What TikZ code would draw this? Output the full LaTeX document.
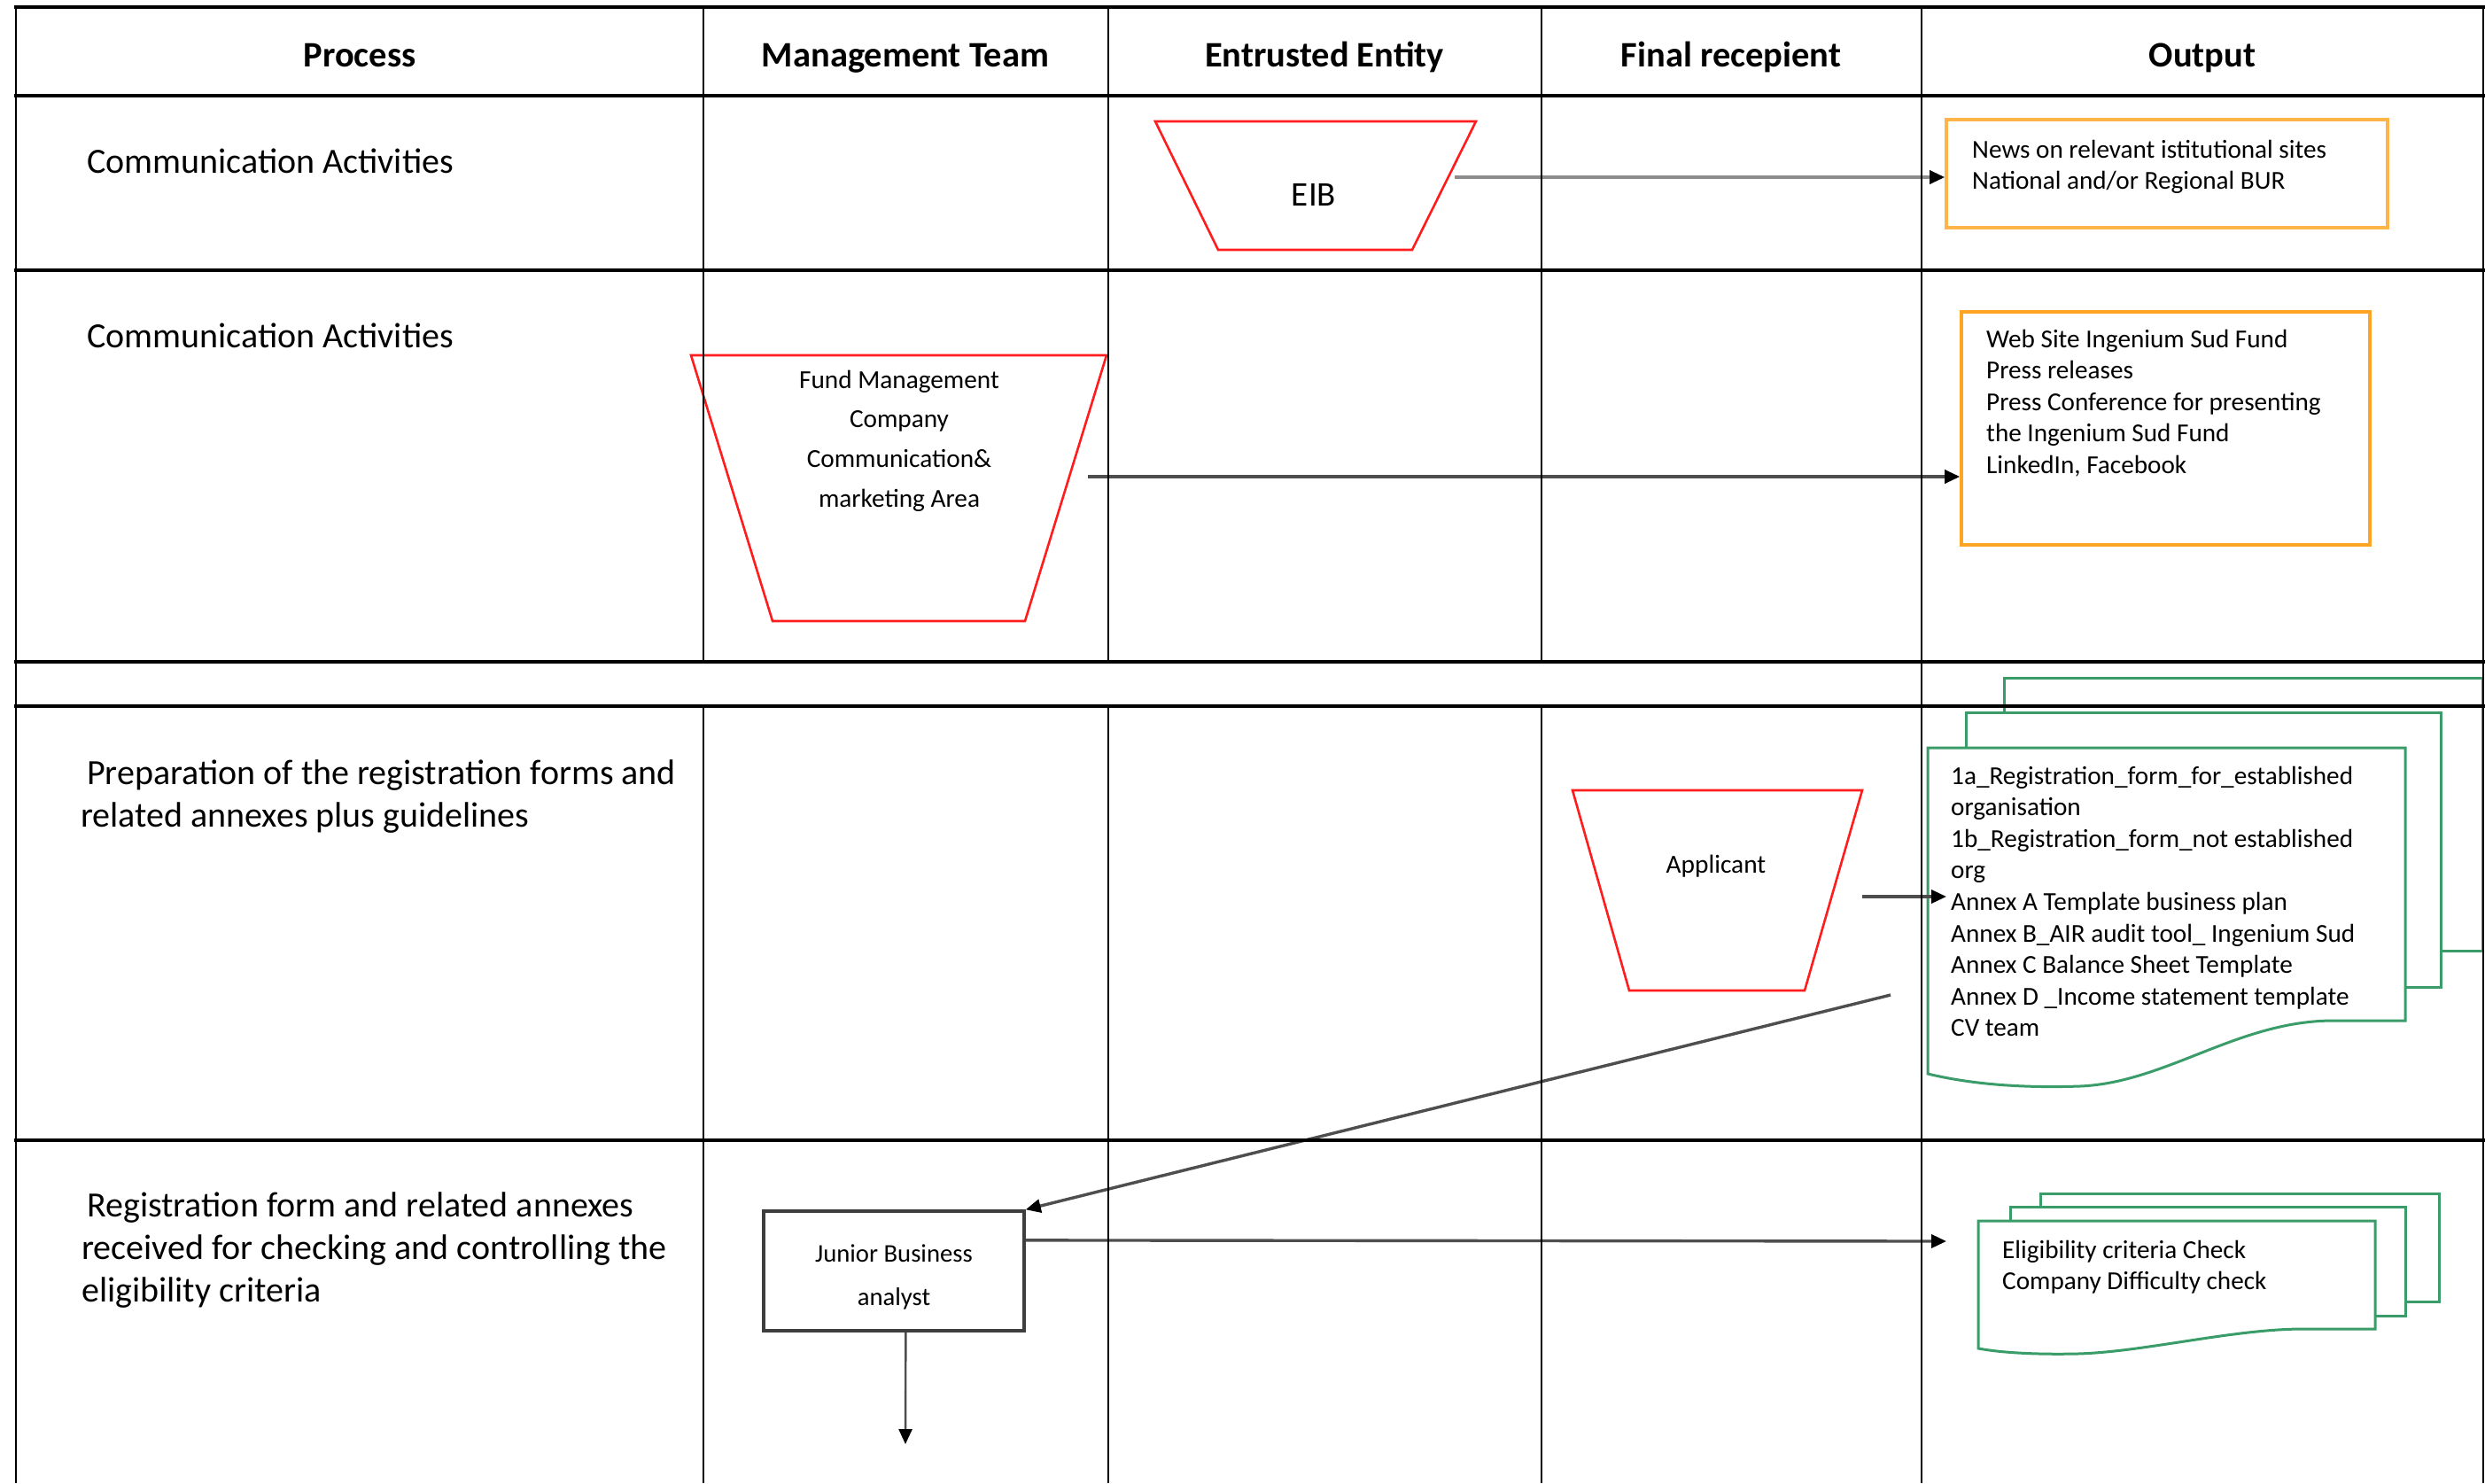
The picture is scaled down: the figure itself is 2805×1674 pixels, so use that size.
\documentclass[tikz,border=0pt]{standalone}
\usepackage{fontspec}
\setmainfont{Carlito}
\usetikzlibrary{arrows.meta,calc}

\definecolor{trapred}{RGB}{255,28,28}
\definecolor{docgreen}{RGB}{58,156,104}
\definecolor{boxorange}{RGB}{255,180,74}
\definecolor{boxorangeB}{RGB}{255,164,36}
\definecolor{flowgray}{RGB}{78,78,78}
\definecolor{flowlight}{RGB}{140,140,140}
\definecolor{framegray}{RGB}{62,62,62}

% multi-line text blocks whose reference point is the first baseline
\newcommand{\leftcol}[1]{\begin{tabular}[t]{@{}l@{}}#1\end{tabular}}
\newcommand{\midcol}[1]{\begin{tabular}[t]{@{}c@{}}#1\end{tabular}}

\begin{document}
\begin{tikzpicture}[x=1pt,y=-1pt,
  hrule/.style={line width=3.4pt,line cap=rect},
  vrule/.style={line width=2.8pt},
  headtext/.style={font=\bfseries\fontsize{40.5}{47}\selectfont,anchor=base,inner sep=0pt},
  proctext/.style={font=\fontsize{40}{48}\selectfont,anchor=base west,inner sep=0pt},
  smalltext/.style={font=\fontsize{29.2}{35.6}\selectfont,anchor=base west,inner sep=0pt},
  shapetext/.style={inner sep=0pt,anchor=base},
  trap/.style={draw=trapred,line width=2.6pt,fill=white},
  outbox/.style={draw=boxorange,line width=3.6pt,fill=white,inner sep=0pt},
  doc/.style={draw=docgreen,line width=3pt,fill=white},
  flow/.style={draw=flowgray,line width=3.4pt,-{Triangle[length=17pt,width=15pt,color=black]}},
]
\useasboundingbox (0,0) rectangle (2805,1674);

% ---------- Entrusted entity: EIB ----------
\draw[trap] (1304,137) -- (1666,137) -- (1594,282) -- (1375,282) -- cycle;
\node[shapetext,font=\fontsize{39}{44}\selectfont] (eib) at (1483,232) {EIB};

% ---------- Management team: fund management company ----------
\draw[trap] (780,401) -- (1249,401) -- (1157,701) -- (872,701) -- cycle;
\node[shapetext,font=\fontsize{29.3}{44.7}\selectfont] (fund) at (1015,438)
  {\midcol{Fund Management\\Company\\Communication\&\\marketing Area}};

% ---------- Final recipient: applicant ----------
\draw[trap] (1775,892) -- (2102,892) -- (2037,1118) -- (1839,1118) -- cycle;
\node[shapetext,font=\fontsize{29.4}{34}\selectfont] (applicant) at (1937,985) {Applicant};

% ---------- Output boxes ----------
\node[outbox,minimum width=498pt,minimum height=122pt] (news) at (2446,196) {};
\node[smalltext] (newsT) at (2226,178)
  {\leftcol{News on relevant istitutional sites\\National and/or Regional BUR}};

\node[outbox,draw=boxorangeB,minimum width=461pt,minimum height=263pt] (web) at (2444.5,483.5) {};
\node[smalltext] (webT) at (2242,392)
  {\leftcol{Web Site Ingenium Sud Fund\\Press releases\\Press Conference for presenting\\the Ingenium Sud Fund\\LinkedIn, Facebook}};

% ---------- Registration documents (stack) ----------
\draw[doc] (2262,765) rectangle (2802,1073);
\draw[doc] (2219,804) rectangle (2755,1114);
\draw[doc] (2176,844) -- (2715,844) -- (2715,1152) -- (2634,1152)
  .. controls (2526,1152) and (2445,1222) .. (2348,1226)
  .. controls (2290,1228) and (2230,1225) .. (2176,1212) -- cycle;
\node[smalltext] (docsT) at (2202,885)
  {\leftcol{1a\_Registration\_form\_for\_established\\organisation\\1b\_Registration\_form\_not established\\org\\Annex A Template business plan\\Annex B\_AIR audit tool\_ Ingenium Sud\\Annex C Balance Sheet Template\\Annex D \_Income statement template\\CV team}};

% ---------- Junior business analyst ----------
\node[draw=framegray,line width=3.5pt,fill=white,minimum width=294pt,minimum height=135pt,inner sep=0pt] (junior) at (1009,1434.5) {};
\node[shapetext,font=\fontsize{28.7}{49}\selectfont] (juniorT) at (1009,1424)
  {\midcol{Junior Business\\analyst}};

% ---------- Eligibility check documents (stack) ----------
\draw[doc] (2303,1347) rectangle (2753,1469);
\draw[doc] (2269,1362) rectangle (2715,1485);
\draw[doc] (2233,1378) -- (2681,1378) -- (2681,1500) -- (2600,1500)
  .. controls (2520,1500) and (2420,1526) .. (2345,1528)
  .. controls (2300,1529) and (2260,1527) .. (2233,1522) -- cycle;
\node[smalltext] (eligT) at (2260,1420)
  {\leftcol{Eligibility criteria Check\\Company Difficulty check}};

% ---------- Flow connectors ----------
\coordinate (eibOut) at (1642,200);
\coordinate (fundOut) at (1228,538);
\coordinate (appOut) at (2102,1012);
\coordinate (docsIn) at (2197,1012);
\coordinate (docsOut) at (2134,1123);
\coordinate (juniorOut) at ($(junior.north east)!0.25!(junior.south east)$);
\coordinate (eligIn) at (2197,1401);
\coordinate (juniorDown) at ($(junior.south west)!0.545!(junior.south east)$);
\coordinate (nextStep) at (1022,1630);

\draw[flow,draw=flowlight] (eibOut) -- (eibOut -| news.west);
\draw[flow] (fundOut) -- (fundOut -| web.west);
\draw[flow] (appOut) -- (docsIn);
\draw[flow] (docsOut) -- (junior.north east);
\draw[flow] (juniorOut) -- (eligIn);
\draw[flow,line width=2.4pt] (juniorDown) -- (nextStep);

% ---------- Swimlane table ----------
\foreach \y in {8,108,305,747,797,1287}
  \draw[hrule] (18,\y) -- (2803,\y);
\draw[vrule] (18,8) -- (18,1674);
\draw[vrule] (2803,8) -- (2803,1674);
\draw[vrule] (2169,8) -- (2169,1674);
\foreach \x in {794,1251,1740} {
  \draw[vrule] (\x,8) -- (\x,747);
  \draw[vrule] (\x,797) -- (\x,1674);
}

% ---------- Header row ----------
\node[headtext] (hProcess) at (406,75) {Process};
\node[headtext] (hMgmt) at (1022,75) {Management Team};
\node[headtext] (hEntrusted) at (1495,75) {Entrusted Entity};
\node[headtext] (hFinal) at (1954,75) {Final recepient};
\node[headtext] (hOutput) at (2486,75) {Output};

% ---------- Process column ----------
\node[proctext] (proc1) at (98,195) {Communication Activities};
\node[proctext] (proc2) at (98,392) {Communication Activities};
\node[proctext] (proc3) at (91,885)
  {\leftcol{\hspace*{7pt}Preparation of the registration forms and\\related annexes plus guidelines}};
\node[proctext] (proc4) at (92,1373)
  {\leftcol{\hspace*{6pt}Registration form and related annexes\\received for checking and controlling the\\eligibility criteria}};
\end{tikzpicture}
\end{document}
